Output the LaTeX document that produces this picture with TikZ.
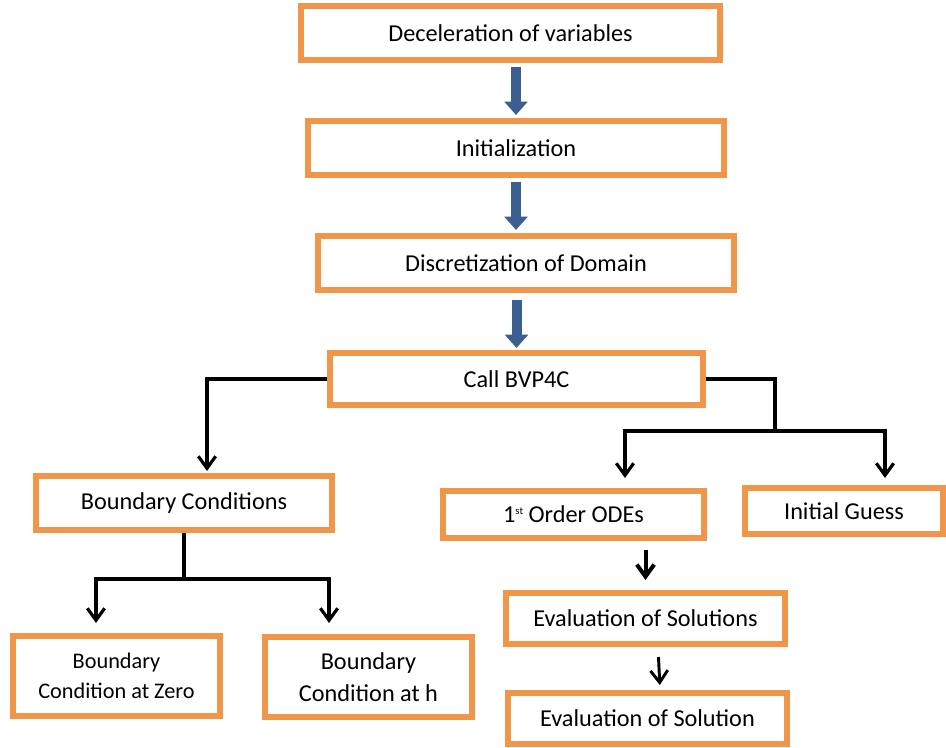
\documentclass[tikz,border=0pt]{standalone}
\usepackage{fontspec}
\setmainfont{Carlito}
\usetikzlibrary{arrows.meta}
\definecolor{boxorange}{RGB}{240,150,75}
\definecolor{arrowblue}{RGB}{60,95,145}

\begin{document}
\begin{tikzpicture}[x=0.75pt, y=-0.75pt,
    box/.style={draw=boxorange, line width=4.5pt, fill=white, rectangle,
        inner sep=2pt, font=\fontsize{18.2}{22}\selectfont},
    bluearrow/.style={draw=arrowblue, line width=7.5pt,
        -{Triangle[width=17pt, length=10pt]}},
    link/.style={line width=2.4pt, -{Straight Barb[width=13pt, length=9pt]}},
    plain/.style={line width=2.4pt}]

    \useasboundingbox (0,0) rectangle (946,748);

    \node[box, minimum width=314.25pt, minimum height=40.5pt] (decl) at (510.5,33) {Deceleration of variables};
    \node[box, minimum width=312pt, minimum height=40.5pt] (init) at (516,148) {Initialization};
    \node[box, minimum width=312pt, minimum height=40.5pt] (disc) at (526,263) {Discretization of Domain};
    \node[box, minimum width=279.75pt, minimum height=39pt] (call) at (516.5,379) {Call BVP4C};
    \node[box, minimum width=222pt, minimum height=40.5pt] (bc) at (184,503) {Boundary Conditions};
    \node[box, minimum width=195.75pt, minimum height=35.25pt] (ode) at (573.5,514.5) {1\raisebox{6pt}{\fontsize{8}{8}\selectfont st} Order ODEs};
    \node[box, minimum width=148.5pt, minimum height=34.5pt] (guess) at (844,511) {Initial Guess};
    \node[box, minimum width=209.25pt, minimum height=38.25pt] (evs) at (645.5,618.5) {Evaluation of Solutions};
    \node[box, minimum width=209.25pt, minimum height=38.25pt] (evl) at (647.5,718.5) {Evaluation of Solution};
    \node[box, minimum width=155.25pt, minimum height=60pt, align=center,
        font=\fontsize{16.7}{22.5}\selectfont] (bcz) at (116.5,676) {Boundary\\Condition at Zero};
    \node[box, minimum width=155.25pt, minimum height=60pt, align=center,
        font=\fontsize{18.2}{24}\selectfont] (bch) at (368.5,677) {Boundary\\Condition at h};

    \draw[bluearrow, shorten <=3pt, shorten >=2.25pt] (decl.south -| init.north) -- (init.north);
    \draw[bluearrow, shorten <=3pt, shorten >=2.25pt] (init.south) -- (init.south |- disc.north);
    \draw[bluearrow, shorten <=5pt, shorten >=1.5pt] (call.north |- disc.south) -- (call.north);

    \coordinate (jr) at (775,431);
    \coordinate (jb) at (184,579);

    \draw[link, shorten >=1.5pt] (call.west) -| ([xshift=17.25pt]bc.north);
    \draw[plain] (call.east) -| (jr);
    \draw[link, shorten >=7.5pt] (jr) -| ([xshift=38.6pt]ode.north);
    \draw[link, shorten >=5.25pt] (jr) -| ([xshift=30.75pt]guess.north);

    \draw[plain] (bc.south) -- (jb);
    \draw[link, shorten >=7.5pt] (jb) -| ([xshift=-15.4pt]bcz.north);
    \draw[link, shorten >=8.25pt] (jb) -| ([xshift=-29.6pt]bch.north);

    \draw[link, line width=3pt, shorten <=6.75pt, shorten >=7.5pt] (ode.south -| evs.north) -- (evs.north);
    \draw[link, line width=2.2pt, shorten <=7.5pt, shorten >=3.75pt] ([xshift=9.4pt]evs.south) -- ([xshift=9.4pt]evl.north);
\end{tikzpicture}
\end{document}
